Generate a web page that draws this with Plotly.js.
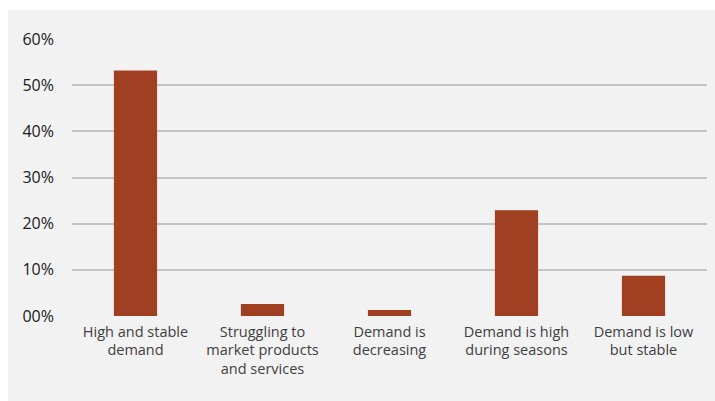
<!DOCTYPE html>
<html>
<head>
<meta charset="utf-8">
<script src="https://cdn.plot.ly/plotly-3.0.1.min.js"></script>
<style>
  html, body { margin: 0; padding: 0; background: #ffffff; width: 715px; height: 401px; overflow: hidden; }
  #chart { position: absolute; left: 8px; top: 10px; width: 707px; height: 391px; }
</style>
</head>
<body>
<div id="chart"></div>
<script>
const categories = [
  "High and stable<br>demand",
  "Struggling to<br>market products<br>and services",
  "Demand is<br>decreasing",
  "Demand is high<br>during seasons",
  "Demand is low<br>but stable"
];
const shares = [0.532, 0.026, 0.013, 0.229, 0.087];
const tickValues = [0, 0.1, 0.2, 0.3, 0.4, 0.5, 0.6];
const tickLabels = ["00%", "10%", "20%", "30%", "40%", "50%", "60%"];

Plotly.newPlot("chart", [{
  type: "bar",
  x: categories,
  y: shares,
  marker: { color: "#a03f22" },
  hoverinfo: "skip"
}], {
  width: 707,
  height: 391,
  margin: { l: 64, r: 8, t: 29, b: 85 },
  paper_bgcolor: "#f2f2f2",
  plot_bgcolor: "#f2f2f2",
  bargap: 0.66,
  showlegend: false,
  font: { family: "Open Sans, sans-serif" },
  xaxis: {
    type: "category",
    showgrid: false,
    showline: false,
    zeroline: false,
    ticks: "",
    ticklabelstandoff: 5,
    tickfont: { size: 14.5, color: "#404040" }
  },
  yaxis: {
    range: [0, 0.6],
    tickvals: tickValues,
    ticktext: tickLabels,
    showgrid: true,
    gridcolor: "#c4c4c4",
    gridwidth: 2,
    zeroline: false,
    showline: false,
    ticks: "",
    ticklabelstandoff: 17,
    tickfont: { size: 16, color: "#1a1a1a" }
  }
}, { displayModeBar: false, staticPlot: true });
</script>
</body>
</html>
